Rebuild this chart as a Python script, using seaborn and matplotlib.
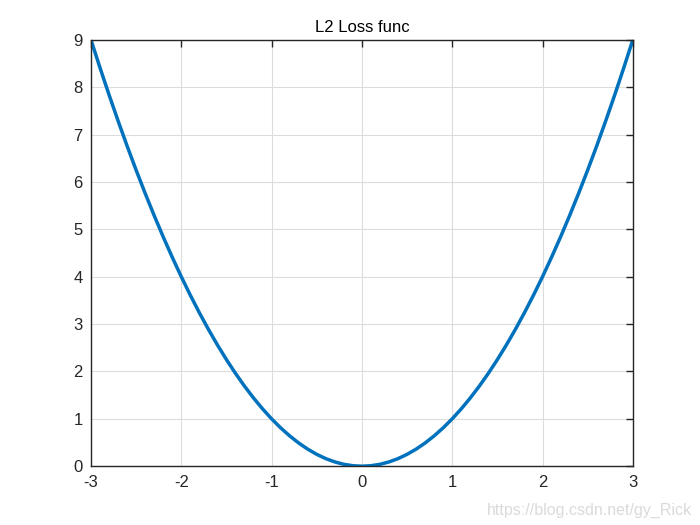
import matplotlib
matplotlib.use("Agg")
import matplotlib.pyplot as plt
import seaborn as sns
import pandas as pd

# values
x_vals = [-3.0, -2.9, -2.8, -2.7, -2.6, -2.5, -2.4, -2.3, -2.2, -2.1,
          -2.0, -1.9, -1.8, -1.7, -1.6, -1.5, -1.4, -1.3, -1.2, -1.1,
          -1.0, -0.9, -0.8, -0.7, -0.6, -0.5, -0.4, -0.3, -0.2, -0.1,
          0.0, 0.1, 0.2, 0.3, 0.4, 0.5, 0.6, 0.7, 0.8, 0.9,
          1.0, 1.1, 1.2, 1.3, 1.4, 1.5, 1.6, 1.7, 1.8, 1.9,
          2.0, 2.1, 2.2, 2.3, 2.4, 2.5, 2.6, 2.7, 2.8, 2.9, 3.0]
y_vals = [9.00, 8.41, 7.84, 7.29, 6.76, 6.25, 5.76, 5.29, 4.84, 4.41,
          4.00, 3.61, 3.24, 2.89, 2.56, 2.25, 1.96, 1.69, 1.44, 1.21,
          1.00, 0.81, 0.64, 0.49, 0.36, 0.25, 0.16, 0.09, 0.04, 0.01,
          0.00, 0.01, 0.04, 0.09, 0.16, 0.25, 0.36, 0.49, 0.64, 0.81,
          1.00, 1.21, 1.44, 1.69, 1.96, 2.25, 2.56, 2.89, 3.24, 3.61,
          4.00, 4.41, 4.84, 5.29, 5.76, 6.25, 6.76, 7.29, 7.84, 8.41, 9.00]
x_ticks = [-3, -2, -1, 0, 1, 2, 3]
y_ticks = [0, 1, 2, 3, 4, 5, 6, 7, 8, 9]

sns.set_style("white")
plt.rcParams["font.family"] = ["Liberation Sans", "DejaVu Sans"]
plt.rcParams["axes.unicode_minus"] = False

df = pd.DataFrame({"x": x_vals, "y": y_vals})

fig = plt.figure(figsize=(7, 5.25), dpi=100)
ax = fig.add_axes([0.13, 0.112, 0.774, 0.812])
sns.lineplot(data=df, x="x", y="y", ax=ax, color="#0072BD", linewidth=2.5, sort=False)

ax.set_xlim(-3, 3)
ax.set_ylim(0, 9)
ax.set_xticks(x_ticks)
ax.set_yticks(y_ticks)
ax.set_xlabel("")
ax.set_ylabel("")
ax.grid(True, color="#dcdcdc", linewidth=0.8)
ax.set_axisbelow(True)
for s in ax.spines.values():
    s.set_color("#262626")
    s.set_linewidth(1.0)
ax.tick_params(direction="in", length=5, width=1, color="#262626", labelsize=12,
               top=True, right=True, pad=6, labelcolor="#262626")
ax.set_title("L2 Loss func", fontsize=12, color="black", pad=6)

fig.text(0.988, 0.014, "https://blog.csdn.net/gy_Rick", ha="right", va="bottom",
         fontsize=11.5, color="#dadada")

fig.savefig("out.png", dpi=100, facecolor="white")
